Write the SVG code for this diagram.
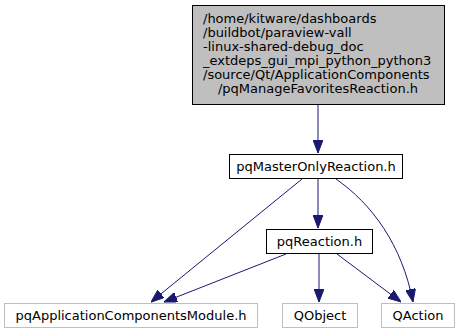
<svg xmlns="http://www.w3.org/2000/svg" width="460" height="335" viewBox="0 0 460 335">
  <style>
    text { font-family: "DejaVu Sans", "Liberation Sans", sans-serif; font-size: 13px; fill: #000; }
    .mid { text-anchor: middle; }
    .root rect { fill: #bfbfbf; stroke: #000; stroke-width: 1; }
    .inc rect { fill: #fff; stroke: #000; stroke-width: 1; }
    .ext rect { fill: #fff; stroke: #bfbfbf; stroke-width: 1; }
    .edge { fill: none; stroke: #191970; stroke-width: 1; marker-end: url(#arrow); }
  </style>
  <defs>
    <marker id="arrow" markerUnits="userSpaceOnUse" markerWidth="13" markerHeight="10" viewBox="0 0 13 10" refX="13" refY="5" orient="auto">
      <path d="M0,0 L13,5 L0,10 z" fill="#191970" stroke="#191970" stroke-width="1"/>
    </marker>
  </defs>

  <rect width="460" height="335" fill="#fff"/>

  <g id="connectors">
    <path class="edge" d="M318,105 L318,153"/>
    <path class="edge" d="M318,179 L318,228"/>
    <path class="edge" d="M302,179 L151,302"/>
    <path class="edge" d="M336,179 C372,204 402,245 413,302"/>
    <path class="edge" d="M286,254 L164,302"/>
    <path class="edge" d="M319,254 L319,302"/>
    <path class="edge" d="M337,254 L401,302"/>
  </g>

  <g id="node-pqManageFavoritesReaction" class="root">
    <rect x="192.5" y="5.5" width="252" height="99"/>
    <text x="203" y="23">/home/kitware/dashboards</text>
    <text x="203" y="37">/buildbot/paraview-vall</text>
    <text x="203" y="51">-linux-shared-debug_doc</text>
    <text x="203" y="65">_extdeps_gui_mpi_python_python3</text>
    <text x="203" y="79">/source/Qt/ApplicationComponents</text>
    <text x="318" y="93" class="mid">/pqManageFavoritesReaction.h</text>
  </g>

  <g id="node-pqMasterOnlyReaction" class="inc">
    <rect x="229.5" y="154.5" width="173" height="24"/>
    <text x="316" y="171" class="mid">pqMasterOnlyReaction.h</text>
  </g>

  <g id="node-pqReaction" class="inc">
    <rect x="266.5" y="229.5" width="106" height="24"/>
    <text x="319.5" y="246" class="mid">pqReaction.h</text>
  </g>

  <g id="node-pqApplicationComponentsModule" class="ext">
    <rect x="4.5" y="303.5" width="253" height="24"/>
    <text x="131" y="320" class="mid">pqApplicationComponentsModule.h</text>
  </g>

  <g id="node-QObject" class="ext">
    <rect x="282.5" y="303.5" width="75" height="24"/>
    <text x="320" y="320" class="mid">QObject</text>
  </g>

  <g id="node-QAction" class="ext">
    <rect x="381.5" y="303.5" width="73" height="24"/>
    <text x="418" y="320" class="mid">QAction</text>
  </g>
</svg>
